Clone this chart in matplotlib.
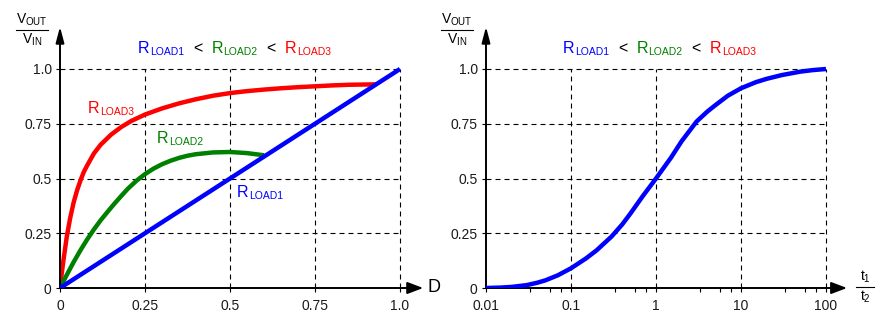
import matplotlib
matplotlib.use("Agg")
import matplotlib.pyplot as plt
from matplotlib.lines import Line2D
from matplotlib.ticker import FixedLocator, NullFormatter

plt.rcParams['font.family'] = ['Liberation Sans', 'DejaVu Sans']
plt.rcParams['mathtext.default'] = 'regular'

# left chart: Vout/Vin against duty cycle D, one curve per load
duty_load1 = [0, 1.0]
ratio_load1 = [0, 1.0]

duty_load2 = [0, 0.02, 0.04, 0.06, 0.08, 0.1, 0.12, 0.14, 0.16, 0.18, 0.2,
              0.225, 0.25, 0.275, 0.3, 0.325, 0.35, 0.375, 0.4, 0.45, 0.5,
              0.55, 0.6]
ratio_load2 = [0, 0.06, 0.118, 0.172, 0.222, 0.268, 0.31, 0.348, 0.385,
               0.42, 0.454, 0.49, 0.52, 0.545, 0.565, 0.581, 0.594, 0.604,
               0.611, 0.619, 0.621, 0.616, 0.606]

duty_load3 = [0, 0.005, 0.01, 0.02, 0.03, 0.04, 0.05, 0.06, 0.07, 0.08,
              0.1, 0.12, 0.15, 0.18, 0.21, 0.25, 0.3, 0.35, 0.4, 0.45, 0.5,
              0.55, 0.6, 0.65, 0.7, 0.75, 0.8, 0.85, 0.93]
ratio_load3 = [0, 0.065, 0.125, 0.235, 0.32, 0.39, 0.445, 0.49, 0.53, 0.56,
               0.615, 0.655, 0.7, 0.735, 0.763, 0.792, 0.82, 0.843, 0.862,
               0.878, 0.89, 0.899, 0.906, 0.912, 0.917, 0.921, 0.925, 0.928,
               0.93]

# right chart: Vout/Vin against t1/t2
t_ratio = [0.01, 0.015, 0.02, 0.03, 0.04, 0.05, 0.07, 0.1, 0.15, 0.2, 0.3,
           0.4, 0.5, 0.7, 1, 1.5, 2, 3, 4, 5, 7, 10, 15, 20, 30, 50, 70, 100]
ratio_t = [0.0, 0.002, 0.005, 0.013, 0.024, 0.035, 0.058, 0.09, 0.135,
           0.172, 0.235, 0.29, 0.34, 0.42, 0.5, 0.595, 0.67, 0.76, 0.805,
           0.835, 0.878, 0.912, 0.94, 0.955, 0.972, 0.988, 0.995, 1.0]

lin_ticks = [0, 0.25, 0.5, 0.75, 1.0]
lin_labels = ['0', '0.25', '0.5', '0.75', '1.0']
log_ticks = [0.01, 0.1, 1, 10, 100]
log_labels = ['0.01', '0.1', '1', '10', '100']
minor_steps = [3.3, 5.6, 7.7]

load_names = ['LOAD1', 'LOAD2', 'LOAD3']
load_colors = ['#0000ff', '#008000', '#ff0000']

W, H = 888, 325
fig = plt.figure(figsize=(W / 100, H / 100), dpi=100)


def rect(x0, y0, x1, y1):
    # pixel box (top-left origin) -> figure fraction
    return [x0 / W, 1 - y1 / H, (x1 - x0) / W, (y1 - y0) / H]


def ftext(x, y, s, **kw):
    return fig.text(x / W, 1 - y / H, s, **kw)


def fraction(xc, y_line, top, bottom, half):
    ftext(xc, y_line - 2, top, ha='center', va='bottom', fontsize=10)
    ftext(xc, y_line + 2, bottom, ha='center', va='top', fontsize=10)
    fig.add_artist(Line2D([(xc - half) / W, (xc + half) / W],
                          [1 - y_line / H] * 2, transform=fig.transFigure,
                          color='k', lw=0.8))


def r_label(x, y, name, color, ycoords):
    # "R" with a small subscript, returns the subscript text
    if ycoords == 'figure pixels':
        main = ftext(x, y, 'R', color=color, fontsize=11.5, va='baseline')
        yy = H - y
    else:
        main = ycoords.text(x, y, 'R', color=color, fontsize=11.5,
                            va='baseline')
        yy = y
        ycoords = ycoords.transData
    sub = plt.Annotation(name, xy=(1, yy), xycoords=(main, ycoords),
                         xytext=(0.5, -2), textcoords='offset pixels',
                         color=color, fontsize=7.5, va='baseline')
    fig.add_artist(sub)
    return sub


def ordered_title(x, y):
    prev = r_label(x, y, load_names[0], load_colors[0], 'figure pixels')
    for name, c in zip(load_names[1:], load_colors[1:]):
        lt = plt.Annotation('<', xy=(1, H - y), xycoords=(prev, 'figure pixels'),
                            xytext=(9, 0), textcoords='offset pixels',
                            color='k', fontsize=11.5, va='baseline')
        fig.add_artist(lt)
        fig.canvas.draw()
        bb = lt.get_window_extent()
        prev = r_label(bb.x1 + 9, y, name, c, 'figure pixels')


def setup(ax, xmax_tip, ymax_tip):
    for sp in ax.spines.values():
        sp.set_visible(False)
    ax.set_yticks(lin_ticks)
    ax.set_yticklabels(lin_labels)
    ax.tick_params(axis='both', which='major', direction='out', length=3,
                   width=0.8, labelsize=10, labelcolor='#1a1a1a')
    ax.tick_params(axis='x', pad=5)
    ax.tick_params(axis='y', pad=3)
    x0 = ax.get_xlim()[0]
    ax.annotate('', xy=(xmax_tip, 0), xytext=(x0, 0), annotation_clip=False,
                arrowprops=dict(arrowstyle='-|>,head_length=0.95,head_width=0.36',
                                lw=1.4, color='k', shrinkA=0, shrinkB=0))
    ax.annotate('', xy=(x0, ymax_tip), xytext=(x0, 0), annotation_clip=False,
                arrowprops=dict(arrowstyle='-|>,head_length=0.95,head_width=0.25',
                                lw=1.4, color='k', shrinkA=0, shrinkB=0))


grid_style = dict(colors='k', lw=0.8, linestyles=(0, (4.5, 3.6)), zorder=1)
curve_style = dict(lw=3.2, solid_capstyle='butt', solid_joinstyle='round')

# ---- left panel ----
ax1 = fig.add_axes(rect(60, 20, 440, 288))
ax1.set_xlim(0, 380 / 340)
ax1.set_ylim(0, 268 / 219)
ax1.set_xticks(lin_ticks)
ax1.set_xticklabels(lin_labels)
ax1.vlines(lin_ticks[1:], 0, 1.0, **grid_style)
ax1.hlines(lin_ticks[1:], 0, 1.0, **grid_style)
ax1.plot(duty_load3, ratio_load3, color=load_colors[2], zorder=3, **curve_style)
ax1.plot(duty_load2, ratio_load2, color=load_colors[1], zorder=3, **curve_style)
ax1.plot(duty_load1, ratio_load1, color=load_colors[0], zorder=4, **curve_style)
setup(ax1, 1.068, 1.193)

r_label(0.082, 0.80, load_names[2], load_colors[2], ax1)
r_label(0.285, 0.662, load_names[1], load_colors[1], ax1)
r_label(0.52, 0.417, load_names[0], load_colors[0], ax1)

fraction(32, 30, '$V_{OUT}$', '$V_{IN}$', 16)
ftext(434, 288, 'D', fontsize=13, ha='center', va='center')

# ---- right panel ----
ax2 = fig.add_axes(rect(486, 20, 880, 288))
ax2.set_xscale('log')
ax2.set_xlim(0.01, 10 ** (-2 + 394 / 85))
ax2.set_ylim(0, 268 / 219)
ax2.set_xticks(log_ticks)
ax2.set_xticklabels(log_labels)
ax2.xaxis.set_minor_locator(FixedLocator(
    [d * m for d in log_ticks[:-1] for m in minor_steps]))
ax2.xaxis.set_minor_formatter(NullFormatter())
ax2.tick_params(axis='x', which='minor', direction='out', length=3, width=0.8)
ax2.vlines(log_ticks[1:], 0, 1.0, **grid_style)
ax2.hlines(lin_ticks[1:], 0.01, 100, **grid_style)
ax2.plot(t_ratio, ratio_t, color=load_colors[0], zorder=4, **curve_style)
setup(ax2, 10 ** (-2 + 361 / 85), 1.193)

fraction(457, 30, '$V_{OUT}$', '$V_{IN}$', 16)
fraction(865, 287, '$t_1$', '$t_2$', 9)

ordered_title(138, 53)
ordered_title(563, 53)

fig.savefig('out.png', dpi=100)
